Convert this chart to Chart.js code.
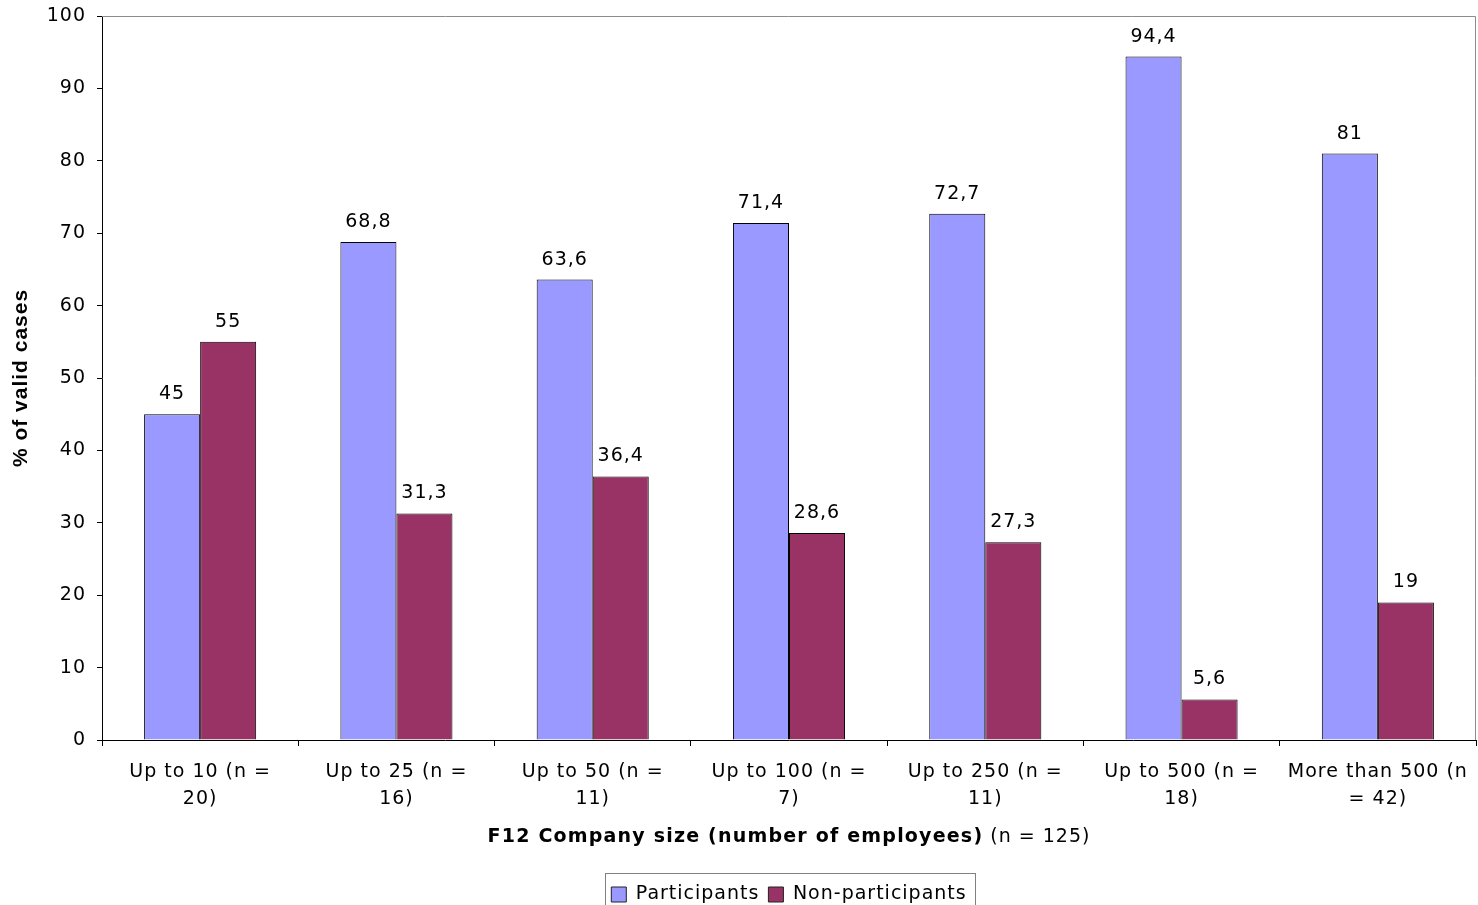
<!DOCTYPE html>
<html>
<head>
<meta charset="utf-8">
<script src="https://cdn.jsdelivr.net/npm/chart.js@4"></script>
<style>
  html, body { margin: 0; padding: 0; background: #fff; }
  canvas { display: block; }
</style>
</head>
<body>
<canvas id="sizeChart" width="1478" height="905"></canvas>
<script>
// Company size groups and shares of valid cases
const categories = [
    ['Up to 10 (n =', '20)'],
    ['Up to 25 (n =', '16)'],
    ['Up to 50 (n =', '11)'],
    ['Up to 100 (n =', '7)'],
    ['Up to 250 (n =', '11)'],
    ['Up to 500 (n =', '18)'],
    ['More than 500 (n', '= 42)']
];
const participants = [45, 68.8, 63.6, 71.4, 72.7, 94.4, 81];
const nonParticipants = [55, 31.3, 36.4, 28.6, 27.3, 5.6, 19];

const FONT = "'DejaVu Sans', Verdana, sans-serif";
const SPACING = '1px';
const BOTTOM_PAD = -9;

// Wide Verdana-like tracking for all canvas text
const tracking = {
    id: 'tracking',
    beforeLayout(chart) { chart.ctx.letterSpacing = SPACING; },
    beforeDraw(chart) { chart.ctx.letterSpacing = SPACING; }
};

// Center the legend under the plot area instead of the canvas
const legendShift = {
    id: 'legendShift',
    afterLayout(chart) {
        const lg = chart.legend;
        const a = chart.chartArea;
        const shift = (a.left + a.right) / 2 - (lg.left + lg.right) / 2;
        lg.left += shift;
        lg.right += shift;
    }
};

// Value labels above each bar, decimal comma
const valueLabels = {
    id: 'valueLabels',
    afterDatasetsDraw(chart) {
        const ctx = chart.ctx;
        ctx.save();
        ctx.font = '19px ' + FONT;
        ctx.fillStyle = '#000';
        ctx.textAlign = 'center';
        ctx.textBaseline = 'alphabetic';
        chart.data.datasets.forEach((ds, i) => {
            chart.getDatasetMeta(i).data.forEach((bar, j) => {
                const txt = String(ds.data[j]).replace('.', ',');
                ctx.fillText(txt, bar.x, bar.y - 15);
            });
        });
        ctx.restore();
    }
};

// Plot frame, mixed-weight axis title and legend border
const decorations = {
    id: 'decorations',
    beforeDatasetsDraw(chart) {
        const a = chart.chartArea;
        const ctx = chart.ctx;
        ctx.save();
        ctx.strokeStyle = '#8c8c8c';
        ctx.lineWidth = 1;
        ctx.beginPath();
        ctx.moveTo(a.left, a.top + 0.5);
        ctx.lineTo(a.right - 0.5, a.top + 0.5);
        ctx.lineTo(a.right - 0.5, a.bottom);
        ctx.stroke();
        ctx.restore();
    },
    afterDraw(chart) {
        const ctx = chart.ctx;
        const a = chart.chartArea;
        ctx.save();
        // axis title: bold name plus plain sample size
        const boldPart = 'F12 Company size (number of employees)';
        const normPart = ' (n = 125)';
        ctx.letterSpacing = '1.2px';
        ctx.font = 'bold 19px ' + FONT;
        const wb = ctx.measureText(boldPart).width;
        ctx.letterSpacing = SPACING;
        ctx.font = '19px ' + FONT;
        const wn = ctx.measureText(normPart).width;
        const cx = (a.left + a.right) / 2;
        const ty = 837;
        const sx = cx - (wb + wn) / 2;
        ctx.textBaseline = 'middle';
        ctx.textAlign = 'left';
        ctx.fillStyle = '#000';
        ctx.letterSpacing = '1.2px';
        ctx.font = 'bold 19px ' + FONT;
        ctx.fillText(boldPart, sx, ty);
        ctx.letterSpacing = SPACING;
        ctx.font = '19px ' + FONT;
        ctx.fillText(normPart, sx + wb, ty);
        // legend frame
        const boxes = chart.legend.legendHitBoxes;
        if (boxes && boxes.length) {
            const l = Math.round(boxes[0].left - 6);
            const last = boxes[boxes.length - 1];
            const r = Math.round(last.left + last.width + 8);
            ctx.strokeStyle = '#808080';
            ctx.lineWidth = 1;
            ctx.strokeRect(l + 0.5, 873.5, r - l, 40);
        }
        ctx.restore();
    }
};

new Chart(document.getElementById('sizeChart'), {
    type: 'bar',
    data: {
        labels: categories,
        datasets: [{
            label: 'Participants',
            data: participants,
            backgroundColor: '#9999ff',
            borderColor: '#000',
            borderWidth: 1
        }, {
            label: 'Non-participants',
            data: nonParticipants,
            backgroundColor: '#993366',
            borderColor: '#000',
            borderWidth: 1
        }]
    },
    options: {
        responsive: false,
        animation: false,
        devicePixelRatio: 1,
        layout: {
            padding: { top: 0, right: 2, left: 0, bottom: BOTTOM_PAD }
        },
        datasets: {
            bar: { categoryPercentage: 0.571, barPercentage: 1 }
        },
        plugins: {
            legend: {
                position: 'bottom',
                labels: {
                    font: { family: FONT, size: 19 },
                    color: '#000',
                    boxWidth: 15,
                    boxHeight: 15,
                    padding: 9,
                    generateLabels(chart) {
                        return chart.data.datasets.map((ds, i) => ({
                            text: ds.label,
                            fillStyle: ds.backgroundColor,
                            strokeStyle: '#222',
                            lineWidth: 1,
                            hidden: false,
                            datasetIndex: i
                        }));
                    }
                }
            },
            tooltip: { enabled: false }
        },
        scales: {
            x: {
                afterFit(scale) {
                    scale.height = 905 - BOTTOM_PAD - 740 - scale.chart.legend.height;
                    scale.paddingLeft = 0;
                    scale.paddingRight = 0;
                },
                grid: {
                    drawOnChartArea: false,
                    drawTicks: true,
                    tickLength: 6,
                    color: '#000'
                },
                border: { display: true, color: '#000' },
                ticks: {
                    font: { family: FONT, size: 19, lineHeight: 1.4 },
                    color: '#000',
                    padding: 13,
                    maxRotation: 0,
                    autoSkip: false
                }
            },
            y: {
                min: 0,
                max: 100,
                afterFit(scale) {
                    scale.width = 102;
                    scale.paddingTop = 16;
                },
                ticks: {
                    stepSize: 10,
                    font: { family: FONT, size: 19 },
                    color: '#000',
                    padding: 11
                },
                grid: {
                    drawOnChartArea: false,
                    drawTicks: true,
                    tickLength: 5,
                    color: '#000'
                },
                border: { display: true, color: '#000' },
                title: {
                    display: true,
                    text: '% of valid cases',
                    color: '#000',
                    font: { family: "'Liberation Sans', Arial, sans-serif", size: 21, weight: 'bold' },
                    padding: { top: 9, bottom: 0 }
                }
            }
        }
    },
    plugins: [tracking, legendShift, valueLabels, decorations]
});
</script>
</body>
</html>
